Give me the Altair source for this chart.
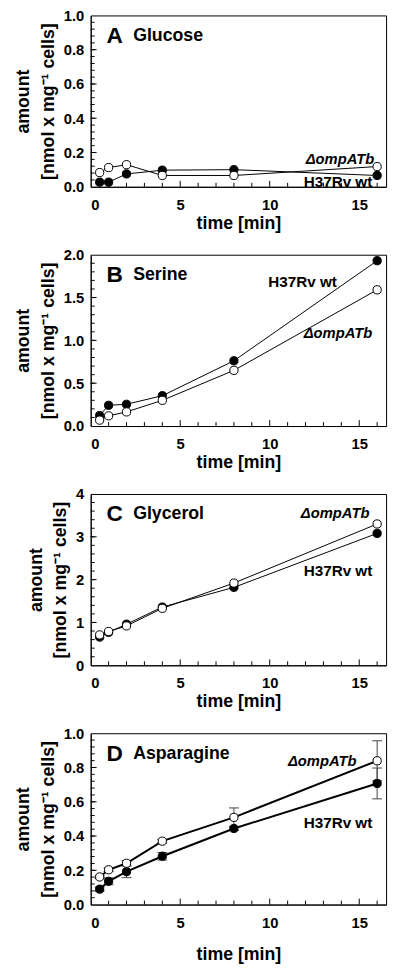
import altair as alt
import pandas as pd

FONT = "Liberation Sans"

# ---------------- data ----------------
time = [0.5, 1, 2, 4, 8, 16]

glucose_wt = [0.027, 0.027, 0.075, 0.097, 0.100, 0.066]
glucose_ko = [0.083, 0.112, 0.129, 0.066, 0.066, 0.118]

serine_wt = [0.123, 0.242, 0.254, 0.354, 0.762, 1.93]
serine_ko = [0.069, 0.119, 0.165, 0.300, 0.650, 1.59]

glycerol_wt = [0.66, 0.77, 0.96, 1.36, 1.82, 3.08]
glycerol_ko = [0.71, 0.79, 0.92, 1.33, 1.92, 3.30]

asparagine_wt = [0.090, 0.136, 0.192, 0.282, 0.444, 0.707]
asparagine_ko = [0.161, 0.203, 0.241, 0.370, 0.509, 0.839]
asparagine_wt_err = [0.012, 0.020, 0.035, 0.022, 0.012, 0.090]
asparagine_ko_err = [0.008, 0.010, 0.016, 0.010, 0.055, 0.117]

letters = ["A", "B", "C", "D"]
names = ["Glucose", "Serine", "Glycerol", "Asparagine"]
y_max = [1.0, 2.0, 4.0, 1.0]
y_step = [0.2, 0.5, 1.0, 0.2]
y_fmt = [".1f", ".1f", "d", ".1f"]

x_major = [0, 5, 10, 15]
x_minor = [1, 2, 3, 4, 6, 7, 8, 9, 11, 12, 13, 14, 16]

# strain label positions (right edge x, centre y) per panel
ko_label_x = [15.84, 15.73, 15.57, 14.85]
ko_label_y = [0.161, 1.09, 3.56, 0.84]
wt_label_x = [15.73, 13.75, 15.73, 15.73]
wt_label_y = [0.029, 1.68, 2.21, 0.473]

wt_series = [glucose_wt, serine_wt, glycerol_wt, asparagine_wt]
ko_series = [glucose_ko, serine_ko, glycerol_ko, asparagine_ko]

W, H = 300, 174
X_DOMAIN = [0, 16.5]


def panel(i):
    ymax = y_max[i]
    xs = alt.Scale(domain=X_DOMAIN, nice=False, zero=False)
    ys = alt.Scale(domain=[0, ymax], nice=False, zero=False)
    last = i == 3
    lw = 2 if last else 1

    wt = pd.DataFrame({"time": time, "value": wt_series[i]})
    ko = pd.DataFrame({"time": time, "value": ko_series[i]})

    x_axis = alt.Axis(values=x_major, format="d", title="time [min]",
                      titlePadding=16 if last else 2)
    y_vals = [round(k * y_step[i], 3) for k in range(int(round(ymax / y_step[i])) + 1)]
    y_axis = alt.Axis(values=y_vals, format=y_fmt[i],
                      title=["amount", "[nmol x mg\u207b\u00b9 cells]"])

    nx = alt.X("time:Q", scale=xs, axis=x_axis)
    ny = alt.Y("value:Q", scale=ys, axis=y_axis)

    layers = []

    # inward ticks
    minor_step = y_step[i] / 5
    y_minor = [round(k * minor_step, 4) for k in range(1, int(round(ymax / minor_step)))]
    y_major = y_vals[1:-1]
    xmaj = pd.DataFrame({"time": [v for v in x_major if v > 0]})
    xmin = pd.DataFrame({"time": x_minor})
    ymaj = pd.DataFrame({"value": y_major})
    ymin = pd.DataFrame({"value": y_minor})
    layers.append(alt.Chart(xmaj).mark_rule(color="black", strokeWidth=1).encode(
        x=nx, y=alt.value(H), y2=alt.value(H - 6)))
    layers.append(alt.Chart(xmin).mark_rule(color="black", strokeWidth=1).encode(
        x=nx, y=alt.value(H), y2=alt.value(H - 4)))
    layers.append(alt.Chart(ymaj).mark_rule(color="black", strokeWidth=1).encode(
        y=ny, x=alt.value(0), x2=alt.value(6)))
    layers.append(alt.Chart(ymin).mark_rule(color="black", strokeWidth=1).encode(
        y=ny, x=alt.value(0), x2=alt.value(4)))

    # panel letter and name
    lab = pd.DataFrame({"time": [0.88], "value": [0.88 * ymax], "t": [letters[i]]})
    nam = pd.DataFrame({"time": [2.37], "value": [0.88 * ymax], "t": [names[i]]})
    layers.append(alt.Chart(lab).mark_text(align="left", baseline="middle", font=FONT,
                                           fontSize=23, fontWeight="bold", color="black").encode(
        x=nx, y=ny, text="t:N"))
    layers.append(alt.Chart(nam).mark_text(align="left", baseline="middle", font=FONT,
                                           fontSize=18, fontWeight="bold", color="black").encode(
        x=nx, y=ny, text="t:N"))

    # strain labels
    kol = pd.DataFrame({"time": [ko_label_x[i]], "value": [ko_label_y[i]], "t": ["\u0394ompATb"]})
    wtl = pd.DataFrame({"time": [wt_label_x[i]], "value": [wt_label_y[i]], "t": ["H37Rv wt"]})
    layers.append(alt.Chart(kol).mark_text(align="right", baseline="middle", font=FONT,
                                           fontSize=15, fontWeight="bold", fontStyle="italic",
                                           color="black").encode(x=nx, y=ny, text="t:N"))
    layers.append(alt.Chart(wtl).mark_text(align="right", baseline="middle", font=FONT,
                                           fontSize=15.5, fontWeight="bold",
                                           color="black").encode(x=nx, y=ny, text="t:N"))

    # error bars (Asparagine only)
    if last:
        for vals, errs in ((asparagine_wt, asparagine_wt_err), (asparagine_ko, asparagine_ko_err)):
            e = pd.DataFrame({"time": time,
                              "lo": [v - d for v, d in zip(vals, errs)],
                              "hi": [v + d for v, d in zip(vals, errs)]})
            layers.append(alt.Chart(e).mark_rule(color="#444444", strokeWidth=1).encode(
                x=nx, y=alt.Y("lo:Q", scale=ys, axis=y_axis), y2="hi:Q"))
            for col in ("lo", "hi"):
                layers.append(alt.Chart(e).mark_rule(color="#444444", strokeWidth=1,
                                                     xOffset=-5, x2Offset=5).encode(
                    x=nx, x2="time:Q", y=alt.Y(f"{col}:Q", scale=ys, axis=y_axis)))

    # lines
    layers.append(alt.Chart(wt).mark_line(color="black", strokeWidth=lw).encode(x=nx, y=ny))
    layers.append(alt.Chart(ko).mark_line(color="black", strokeWidth=lw).encode(x=nx, y=ny))
    # points
    layers.append(alt.Chart(wt).mark_point(shape="circle", filled=True, fill="black",
                                           stroke="black", strokeWidth=1, size=70,
                                           opacity=1).encode(x=nx, y=ny))
    layers.append(alt.Chart(ko).mark_point(shape="circle", filled=True, fill="white",
                                           stroke="black", strokeWidth=1, size=70,
                                           opacity=1).encode(x=nx, y=ny))

    return alt.layer(*layers).properties(width=W, height=H)


chart = alt.vconcat(*[panel(i) for i in range(4)], spacing=14).properties(
    padding={"left": 6, "top": -8, "right": 5, "bottom": 5}
).configure(font=FONT).configure_view(
    stroke="black", strokeWidth=1
).configure_axis(
    grid=False, ticks=False, domainColor="black", domainWidth=1,
    labelFont=FONT, labelFontSize=15, labelFontWeight="bold", labelColor="black",
    titleFont=FONT, titleFontSize=18, titleFontWeight="bold", titleColor="black",
    titleLineHeight=25
).configure_axisX(labelPadding=11).configure_axisY(labelPadding=7, titlePadding=6)

chart.save("out.html", embed_options={"renderer": "svg", "actions": False})
